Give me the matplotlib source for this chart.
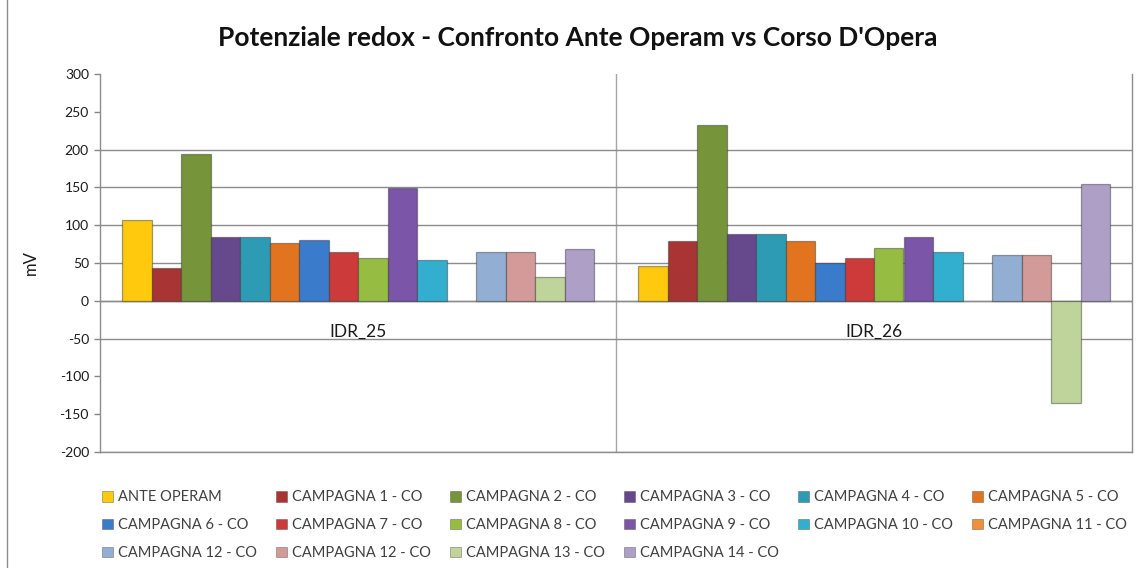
import numpy as np
import matplotlib
matplotlib.use("Agg")
import matplotlib.pyplot as plt
from matplotlib.lines import Line2D
from matplotlib.patches import Patch

plt.rcParams["font.family"] = ["Lato", "DejaVu Sans"]
plt.rcParams["axes.unicode_minus"] = False

# data (mV)
stations = ["IDR_25", "IDR_26"]
series_labels = [
    "ANTE OPERAM", "CAMPAGNA 1 - CO", "CAMPAGNA 2 - CO", "CAMPAGNA 3 - CO",
    "CAMPAGNA 4 - CO", "CAMPAGNA 5 - CO", "CAMPAGNA 6 - CO", "CAMPAGNA 7 - CO",
    "CAMPAGNA 8 - CO", "CAMPAGNA 9 - CO", "CAMPAGNA 10 - CO", "CAMPAGNA 11 - CO",
    "CAMPAGNA 12 - CO", "CAMPAGNA 12 - CO", "CAMPAGNA 13 - CO", "CAMPAGNA 14 - CO",
]
idr25 = [107, 43, 194, 84, 84, 76, 80, 65, 57, 149, 54, np.nan, 65, 65, 32, 68]
idr26 = [46, 79, 232, 89, 88, 79, 50, 57, 70, 84, 65, np.nan, 61, 61, -135, 155]
colors = [
    "#FFC90E", "#A93434", "#76943A", "#65498C", "#2E9BB5", "#E2741F",
    "#3A7BCC", "#CC3A3A", "#96BD42", "#7A55A8", "#32AFCF", "#F08F3C",
    "#93AED3", "#D29A98", "#BFD49A", "#AE9FC6",
]
y_ticks = list(range(-200, 301, 50))
hidden_grid = [300, 250, -100, -150]

values = np.array([idr25, idr26]).T   # one row per series

fig = plt.figure(figsize=(11.45, 5.68), dpi=100)
ax = fig.add_axes([100 / 1145, 1 - 452 / 568, 1032 / 1145, 378 / 568])

n = len(series_labels)
x = np.arange(len(stations))
w = 29.5 / 516
edge = matplotlib.colors.to_rgba("#303030", 0.45)
for i in range(n):
    ax.bar(x + (i - (n - 1) / 2) * w, values[i], width=w, color=colors[i],
           edgecolor=edge, linewidth=0.9, zorder=3)

ax.set_xlim(-0.5, 1.5)
ax.set_ylim(-200, 300)
ax.set_yticks(y_ticks)
ax.tick_params(axis="y", labelsize=10, labelcolor="#1a1a1a", color="#868686",
               length=4, width=1, pad=4)

# gridlines (the 3D wall in the original leaves some of them out)
ax.yaxis.grid(True, color="#8c8c8c", linewidth=1)
for val, gl in zip(y_ticks, ax.yaxis.get_gridlines()):
    if val in hidden_grid:
        gl.set_visible(False)
ax.axhline(0, color="#8c8c8c", linewidth=1, zorder=2)

# category separator
ax.set_xticks(x)
ax.set_xticks([0.5], minor=True)
ax.xaxis.grid(True, which="minor", color="#a6a6a6", linewidth=1)
ax.tick_params(axis="x", which="both", length=0, labelbottom=False)
for xi, name in zip(x, stations):
    ax.annotate(name, (xi, 0), xytext=(0, -22), textcoords="offset points",
                ha="center", va="center", fontsize=12.5, color="#1a1a1a")

ax.spines["top"].set_visible(False)
for side in ["left", "right", "bottom"]:
    ax.spines[side].set_color("#8c8c8c")
    ax.spines[side].set_linewidth(1)
ax.set_axisbelow(True)

ax.set_ylabel("mV", fontsize=12, color="#1a1a1a", labelpad=15)

fig.suptitle("Potenziale redox - Confronto Ante Operam vs Corso D'Opera",
             x=578 / 1145, y=1 - 38 / 568, va="center", fontsize=19,
             fontweight="bold", color="#111111")

# legend laid out row by row like the original (6 columns)
handles = [Patch(facecolor=c, edgecolor=matplotlib.colors.to_rgba("#303030", 0.4),
                 linewidth=0.6) for c in colors]
ncol = 6
order = []
for c in range(ncol):
    order += [r * ncol + c for r in range(3) if r * ncol + c < n]
fig.legend([handles[k] for k in order], [series_labels[k] for k in order],
           loc="upper left", bbox_to_anchor=(95 / 1145, 1 - 483 / 568),
           ncol=ncol, frameon=False, fontsize=10.5, handlelength=0.75,
           handleheight=0.75, handletextpad=0.35, columnspacing=1.3,
           labelspacing=0.95, labelcolor="#404040", borderpad=0)

# outer chart border on the left edge
fig.add_artist(Line2D([7 / 1145, 7 / 1145], [0, 1], color="#8c8c8c",
                      linewidth=1, transform=fig.transFigure))

fig.savefig("out.png", dpi=100)
